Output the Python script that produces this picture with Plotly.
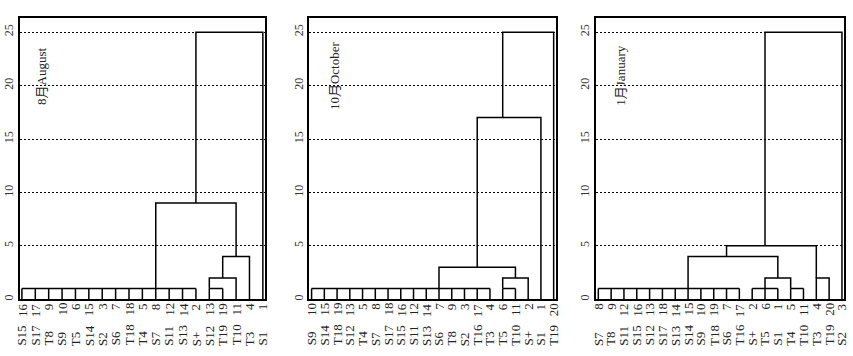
import plotly.graph_objects as go

# ---------------- data ----------------
aug_numbers = ["16", "17", "9", "10", "6", "15", "3", "7", "18", "5", "8", "12", "14", "2", "13", "19", "11", "4", "1"]
aug_names = ["S15", "S17", "T8", "S9", "T5", "S14", "S2", "S6", "T18", "T4", "S7", "S11", "S13", "S+", "S12", "T19", "T10", "T3", "S1"]
# flat groups: (first leaf, last leaf, height, anchor leaf)
aug_flat = [(0, 13, 1, 10), (14, 15, 1, 14)]
# merges: (left anchor, right anchor, height, new anchor)
aug_merges = [(14, 16, 2, 15), (15, 17, 4, 16), (10, 16, 9, 13), (13, 18, 25, None)]

oct_numbers = ["10", "15", "19", "13", "5", "8", "18", "16", "12", "14", "7", "9", "3", "17", "4", "6", "11", "2", "1", "20"]
oct_names = ["S9", "S14", "T18", "S12", "T4", "S7", "S17", "S15", "S11", "S13", "S6", "T8", "S2", "T16", "T3", "T5", "T10", "S+", "S1", "T19"]
oct_flat = [(0, 14, 1, 10), (15, 16, 1, 15)]
oct_merges = [(15, 17, 2, 16), (10, 16, 3, 13), (13, 18, 17, 15), (15, 19, 25, None)]

jan_numbers = ["8", "9", "12", "16", "13", "18", "14", "15", "10", "19", "7", "17", "2", "6", "1", "5", "11", "4", "20", "3"]
jan_names = ["S7", "T8", "S11", "S15", "S12", "S17", "S13", "S14", "S9", "T18", "S6", "T16", "S+", "T5", "S1", "T4", "T10", "T3", "T19", "S2"]
jan_flat = [(0, 11, 1, 7), (12, 14, 1, 13), (15, 16, 1, 15)]
jan_merges = [(13, 15, 2, 14), (7, 14, 4, 10), (17, 18, 2, 17), (10, 17, 5, 13), (13, 19, 25, None)]

titles = ["8月August", "10月October", "1月January"]
y_ticks = [0, 5, 10, 15, 20, 25]

panels = [
    (aug_numbers, aug_names, aug_flat, aug_merges),
    (oct_numbers, oct_names, oct_flat, oct_merges),
    (jan_numbers, jan_names, jan_flat, jan_merges),
]

# ---------------- layout geometry ----------------
W, H = 853, 356
x_domains_px = [(19.5, 265.0), (309.3, 555.7), (596.0, 844.0)]
title_x = [1.5, 1.85, 1.75]
y_bottom_px, y_top_px = 299.3, 17.7
y_domain = [(H - y_bottom_px) / H, (H - y_top_px) / H]
YMAX = 26.35
FONT = "Liberation Serif, Times New Roman, Noto Sans CJK SC, serif"


def dendro_lines(n, flat, merges):
    h = [0.0] * n
    xs, ys = [], []
    for s, e, lev, anchor in flat:
        for i in range(s, e + 1):
            xs += [i, i, None]
            ys += [h[i], lev, None]
        xs += [s, e, None]
        ys += [lev, lev, None]
        h[anchor] = lev
    for a, b, lev, anchor in merges:
        xs += [a, a, b, b, None]
        ys += [h[a], lev, lev, h[b], None]
        if anchor is not None:
            h[anchor] = lev
    return xs, ys


fig = go.Figure()
annotations = []
for k, (numbers, names, flat, merges) in enumerate(panels):
    n = len(numbers)
    xs, ys = dendro_lines(n, flat, merges)
    xa = "x" if k == 0 else f"x{k+1}"
    ya = "y" if k == 0 else f"y{k+1}"
    fig.add_trace(go.Scatter(x=xs, y=ys, mode="lines",
                             line=dict(color="black", width=1.5),
                             xaxis=xa, yaxis=ya, showlegend=False,
                             hoverinfo="skip"))
    d0, d1 = x_domains_px[k]
    xkey = "xaxis" if k == 0 else f"xaxis{k+1}"
    ykey = "yaxis" if k == 0 else f"yaxis{k+1}"
    fig.update_layout(**{
        xkey: dict(domain=[d0 / W, d1 / W], anchor=ya,
                   range=[-0.18, n - 1 + 0.16],
                   showticklabels=False, ticks="", showgrid=False, zeroline=False,
                   showline=True, mirror=True, linecolor="black", linewidth=1.5),
        ykey: dict(domain=y_domain, anchor=xa, range=[0, YMAX],
                   tickmode="array", tickvals=y_ticks,
                   ticktext=[str(v) for v in y_ticks],
                   tickangle=-90, ticks="", showgrid=True, gridcolor="black",
                   gridwidth=1, griddash="2px,2px", zeroline=False,
                   showline=True, mirror=True, linecolor="black", linewidth=1.5,
                   tickfont=dict(family=FONT, size=12, color="#333")),
    })
    for i, (num, nm) in enumerate(zip(numbers, names)):
        annotations.append(dict(x=i, xref=xa, y=(H - 302.0) / H, yref="paper",
                                text=num, showarrow=False, textangle=-90,
                                xanchor="center", yanchor="top", borderpad=0,
                                font=dict(family=FONT, size=13, color="#222")))
        annotations.append(dict(x=i, xref=xa, y=(H - 346.7) / H, yref="paper",
                                text=nm, showarrow=False, textangle=-90,
                                xanchor="center", yanchor="bottom", borderpad=0,
                                font=dict(family=FONT, size=13, color="#222")))
    annotations.append(dict(x=title_x[k], xref=xa, y=20.9, yref=ya, text=titles[k],
                            showarrow=False, textangle=-90,
                            xanchor="center", yanchor="middle",
                            font=dict(family=FONT, size=13, color="#222")))

fig.update_layout(width=W, height=H, margin=dict(l=0, r=0, t=0, b=0),
                  plot_bgcolor="white", paper_bgcolor="white",
                  annotations=annotations)

fig.write_html("out.html",
               config={"displayModeBar": False},
               post_script="document.body.style.margin='0';"
                           "document.body.style.overflow='hidden';")
